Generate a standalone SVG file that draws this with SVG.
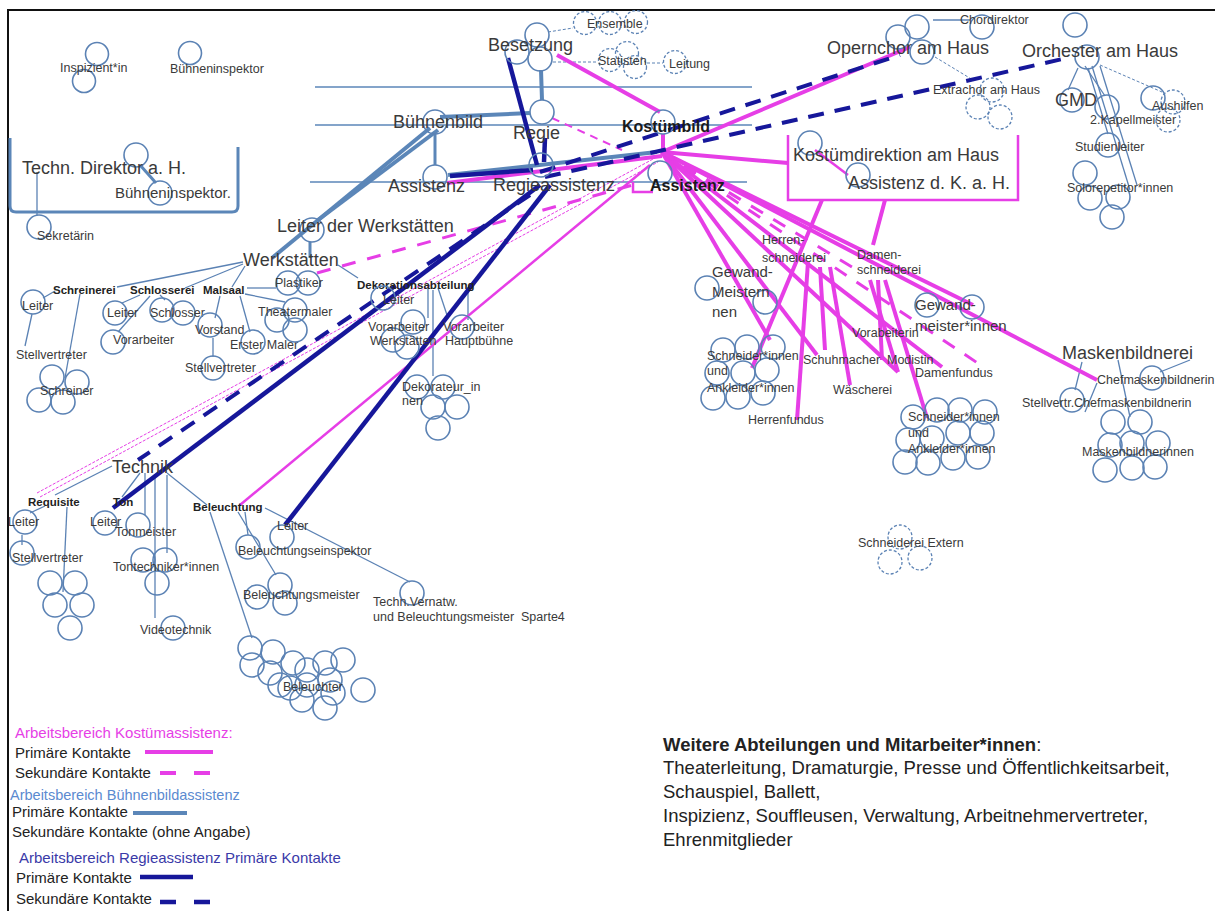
<svg xmlns="http://www.w3.org/2000/svg" width="1215" height="911" viewBox="0 0 1215 911">
<style>
text{font-family:"Liberation Sans",Arial,sans-serif;fill:#3a3a3a}
.s{font-size:12.5px}
.sb{font-size:11.5px;font-weight:bold;fill:#222}
.m{font-size:15px}
.l{font-size:18px}
.kb{font-size:16px;font-weight:bold;fill:#1a1a1a}
.lg{font-size:15px;fill:#222}
.w{font-size:18.5px;fill:#222}
.c{fill:none;stroke:#5b82b4;stroke-width:1.6}
.cd{fill:none;stroke:#5b82b4;stroke-width:1.3;stroke-dasharray:3 2}
.bt{stroke:#5b82b4;stroke-width:1.3;fill:none}
.bd{stroke:#5b82b4;stroke-width:1;stroke-dasharray:3 2;fill:none}
.bT{stroke:#5b86b8;stroke-width:4;fill:none}
.b3{stroke:#5b86b8;stroke-width:3;fill:none}
.hl{stroke:#5b86b8;stroke-width:1.5;fill:none}
.p{stroke:#e63ee6;stroke-width:4;fill:none}
.pm{stroke:#e63ee6;stroke-width:2.5;fill:none}
.pd{stroke:#e63ee6;stroke-width:3;stroke-dasharray:14 12;fill:none}
.pd2{stroke:#e63ee6;stroke-width:2;stroke-dasharray:8 6;fill:none}
.pdt{stroke:#e63ee6;stroke-width:1;stroke-dasharray:3 1.5;fill:none}
.n{stroke:#16179a;stroke-width:4.5;fill:none}
.nd{stroke:#16179a;stroke-width:4;stroke-dasharray:16 11;fill:none}
</style>
<rect width="1215" height="911" fill="#fff"/>
<path d="M8,911 V10 H1215" fill="none" stroke="#111" stroke-width="2"/>

<!-- horizontal guide lines -->
<g id="guides">
<line class="hl" x1="315" y1="87" x2="752" y2="87"/>
<line class="hl" x1="315" y1="125" x2="752" y2="125"/>
<line class="hl" x1="310" y1="182" x2="747" y2="182"/>
</g>

<g id="connectors">
<!-- thin steel blue -->
<line class="bt" x1="37" y1="172" x2="37" y2="215"/>
<line class="bt" x1="243" y1="262" x2="117" y2="287"/>
<line class="bt" x1="243" y1="264" x2="185" y2="288"/>
<line class="bt" x1="245" y1="266" x2="232" y2="287"/>
<line class="bt" x1="338" y1="265" x2="358" y2="278"/>
<line class="bt" x1="55" y1="291" x2="43" y2="298"/>
<line class="bt" x1="80" y1="294" x2="65" y2="378"/>
<line class="bt" x1="32" y1="314" x2="25" y2="346"/>
<line class="bt" x1="140" y1="295" x2="122" y2="303"/>
<line class="bt" x1="150" y1="296" x2="118" y2="332"/>
<line class="bt" x1="160" y1="295" x2="165" y2="300"/>
<line class="bt" x1="247" y1="288" x2="276" y2="288"/>
<line class="bt" x1="220" y1="296" x2="215" y2="318"/>
<line class="bt" x1="240" y1="296" x2="250" y2="332"/>
<line class="bt" x1="245" y1="294" x2="285" y2="302"/>
<line class="bt" x1="213" y1="338" x2="213" y2="357"/>
<line class="bt" x1="428" y1="288" x2="428" y2="318"/>
<line class="bt" x1="438" y1="288" x2="448" y2="318"/>
<line class="bt" x1="468" y1="288" x2="468" y2="320"/>
<line class="bt" x1="433" y1="290" x2="433" y2="376"/>
<line class="bt" x1="112" y1="466" x2="55" y2="495"/>
<line class="bt" x1="140" y1="473" x2="122" y2="497"/>
<line class="bt" x1="145" y1="473" x2="145" y2="515"/>
<line class="bt" x1="155" y1="475" x2="155" y2="618"/>
<line class="bt" x1="167" y1="475" x2="167" y2="553"/>
<line class="bt" x1="167" y1="473" x2="207" y2="505"/>
<line class="bt" x1="45" y1="506" x2="30" y2="513"/>
<line class="bt" x1="67" y1="507" x2="63" y2="592"/>
<line class="bt" x1="22" y1="535" x2="22" y2="545"/>
<line class="bt" x1="265" y1="508" x2="410" y2="582"/>
<line class="bt" x1="245" y1="512" x2="248" y2="535"/>
<line class="bt" x1="238" y1="512" x2="276" y2="575"/>
<line class="bt" x1="210" y1="512" x2="252" y2="638"/>
<line class="bt" x1="933" y1="20" x2="970" y2="20"/>
<line class="bd" x1="935" y1="57" x2="973" y2="80"/>
<line class="bd" x1="548" y1="32" x2="573" y2="28"/>
<line class="bd" x1="553" y1="62" x2="598" y2="62"/>
<line class="bd" x1="647" y1="63" x2="663" y2="63"/>
<line class="bt" x1="1078" y1="68" x2="1068" y2="90"/>
<line class="bt" x1="1085" y1="66" x2="1105" y2="96"/>
<line class="bt" x1="1088" y1="68" x2="1108" y2="134"/>
<line class="bt" x1="1092" y1="66" x2="1130" y2="190"/>
<line class="bt" x1="1100" y1="66" x2="1137" y2="185"/>
<line class="bd" x1="1100" y1="65" x2="1162" y2="92"/>
<line class="bt" x1="1190" y1="360" x2="1160" y2="372"/>
<line class="bt" x1="1082" y1="362" x2="1075" y2="390"/>
<line class="bt" x1="1097" y1="383" x2="1085" y2="412"/>
<line class="bt" x1="1118" y1="360" x2="1130" y2="417"/>

<!-- thick steel blue (Bühnenbildassistenz primary) -->
<line class="bT" x1="448" y1="175" x2="657" y2="152"/>
<line class="bT" x1="440" y1="117" x2="530" y2="113"/>
<line class="bT" x1="541" y1="70" x2="542" y2="100"/>
<line class="bT" x1="430" y1="128" x2="272" y2="258"/>
<line class="bT" x1="438" y1="130" x2="318" y2="220"/>
<line class="b3" x1="435" y1="134" x2="435" y2="165"/>
<line class="b3" x1="310" y1="242" x2="310" y2="258"/>
<line class="b3" x1="140" y1="165" x2="156" y2="183"/>

<!-- pink -->
<line class="p" x1="557" y1="55" x2="660" y2="112"/>
<line class="p" x1="663" y1="134" x2="663" y2="150"/>
<line class="p" x1="662" y1="152" x2="910" y2="47"/>
<line class="p" x1="662" y1="152" x2="788" y2="163"/>
<line class="p" x1="662" y1="152" x2="973" y2="305"/>
<line class="p" x1="662" y1="152" x2="1097" y2="380"/>
<line class="p" x1="662" y1="152" x2="770" y2="340"/>
<line class="p" x1="662" y1="152" x2="817" y2="355"/>
<line class="p" x1="662" y1="152" x2="898" y2="372"/>
<line class="p" x1="662" y1="152" x2="942" y2="367"/>
<line class="p" x1="447" y1="183" x2="662" y2="156"/>
<line class="p" x1="822" y1="200" x2="752" y2="368"/>
<line class="p" x1="808" y1="262" x2="797" y2="420"/>
<line class="p" x1="820" y1="267" x2="825" y2="350"/>
<line class="p" x1="830" y1="267" x2="850" y2="385"/>
<line class="p" x1="885" y1="200" x2="873" y2="245"/>
<line class="p" x1="870" y1="280" x2="898" y2="372"/>
<line class="p" x1="878" y1="280" x2="882" y2="360"/>
<line class="p" x1="885" y1="280" x2="927" y2="418"/>
<line class="pm" x1="815" y1="150" x2="848" y2="175"/>
<path class="pm" d="M788,135 V200 H1018 V135"/>
<path class="pm" d="M633,182 V192 H653"/>
<line class="pm" x1="240" y1="505" x2="650" y2="165"/>
<line class="pd2" x1="552" y1="118" x2="622" y2="150"/>
<line class="pd" x1="317" y1="273" x2="640" y2="183"/>
<line class="pd" x1="662" y1="152" x2="857" y2="270"/>
<line class="pd" x1="662" y1="152" x2="985" y2="368"/>
<line class="pdt" x1="37" y1="493" x2="655" y2="158"/>
<line class="pdt" x1="40" y1="497" x2="658" y2="162"/>

<!-- navy -->
<line class="n" x1="508" y1="58" x2="537" y2="165"/>
<line class="n" x1="545" y1="138" x2="544" y2="162"/>
<line class="n" x1="540" y1="185" x2="113" y2="508"/>
<line class="n" x1="550" y1="185" x2="285" y2="525"/>
<line class="n" x1="450" y1="176" x2="533" y2="170"/>
<line class="nd" x1="540" y1="172" x2="900" y2="55"/>
<line class="nd" x1="545" y1="177" x2="1067" y2="58"/>
<line class="nd" x1="530" y1="195" x2="138" y2="460"/>
</g>

<!-- nodes -->
<g id="inspizient"><circle class="c" cx="97" cy="54" r="11.5"/><circle class="c" cx="84" cy="81" r="11.5"/><text class="s" x="60" y="72">Inspizient*in</text></g>
<g id="buehneninspektor"><circle class="c" cx="190" cy="53" r="11.5"/><text class="s" x="170" y="73">Bühneninspektor</text></g>
<g id="techn-direktor">
<path d="M10,138 V206 Q10,212 16,212 H232 Q238,212 238,206 V147" fill="none" stroke="#5b86b8" stroke-width="3"/>
<circle class="c" cx="136" cy="155" r="12"/><circle class="c" cx="160" cy="193" r="12"/>
<text class="l" x="22" y="174">Techn. Direktor a. H.</text>
<text class="m" x="115" y="198">Bühneninspektor.</text>
</g>
<g id="sekretaerin"><circle class="c" cx="39" cy="227" r="12"/><text class="s" x="37" y="240">Sekretärin</text></g>

<g id="besetzung"><circle class="c" cx="537" cy="35" r="12"/><circle class="c" cx="517" cy="52" r="12"/><circle class="c" cx="540" cy="59" r="12"/><text class="l" x="488" y="51">Besetzung</text></g>
<g id="ensemble"><circle class="cd" cx="585" cy="23" r="11.5"/><circle class="cd" cx="610" cy="23" r="11.5"/><circle class="cd" cx="636" cy="22" r="11.5"/><text class="s" x="587" y="28">Ensemble</text></g>
<g id="statisten"><circle class="cd" cx="610" cy="60" r="11.5"/><circle class="cd" cx="627" cy="53" r="11.5"/><circle class="cd" cx="635" cy="67" r="11.5"/><text class="s" x="598" y="65">Statisten</text></g>
<g id="leitung"><circle class="cd" cx="675" cy="62" r="11.5"/><text class="s" x="669" y="68">Leitung</text></g>
<g id="buehnenbild"><circle class="c" cx="435" cy="122" r="12"/><text class="l" x="393" y="128">Bühnenbild</text></g>
<g id="regie"><circle class="c" cx="542" cy="112" r="12"/><text class="l" x="513" y="139">Regie</text></g>
<g id="assistenz-bb"><circle class="c" cx="435" cy="177" r="12"/><text class="l" x="388" y="192">Assistenz</text></g>
<g id="regieassistenz"><circle class="c" cx="541" cy="165" r="12"/><text class="l" x="493" y="191">Regieassistenz</text></g>
<g id="kostuembild"><circle class="c" cx="663" cy="122" r="12"/><text class="kb" x="622" y="132">Kostümbild</text></g>
<g id="assistenz-kb"><circle class="c" cx="660" cy="173" r="12"/><text class="kb" x="650" y="191">Assistenz</text></g>

<g id="kostuemdirektion"><circle class="c" cx="810" cy="143" r="12"/><text class="l" x="793" y="161">Kostümdirektion am Haus</text></g>
<g id="assistenz-dkah"><circle class="c" cx="858" cy="175" r="12"/><text class="l" x="848" y="189">Assistenz d. K. a. H.</text></g>

<g id="opernchor"><circle class="c" cx="917" cy="27" r="12"/><circle class="c" cx="898" cy="37" r="12"/><circle class="c" cx="922" cy="52" r="12"/><text class="l" x="827" y="54">Opernchor am Haus</text></g>
<g id="chordirektor"><circle class="c" cx="982" cy="27" r="12"/><text class="s" x="960" y="24">Chordirektor</text></g>
<g id="extrachor"><circle class="cd" cx="992" cy="90" r="12"/><circle class="cd" cx="978" cy="107" r="12"/><circle class="cd" cx="1000" cy="117" r="12"/><text class="s" x="933" y="94">Extrachor am Haus</text></g>
<g id="orchester"><circle class="c" cx="1075" cy="25" r="12"/><circle class="c" cx="1087" cy="57" r="12"/><text class="l" x="1022" y="57">Orchester am Haus</text></g>
<g id="gmd"><circle class="c" cx="1072" cy="100" r="12"/><text class="l" x="1055" y="106">GMD</text></g>
<g id="kapellmeister"><circle class="c" cx="1107" cy="107" r="12"/><text class="s" x="1090" y="124">2.Kapellmeister</text></g>
<g id="aushilfen"><circle class="c" cx="1153" cy="98" r="12"/><circle class="cd" cx="1173" cy="102" r="12"/><circle class="cd" cx="1168" cy="120" r="12"/><text class="s" x="1152" y="110">Aushilfen</text></g>
<g id="studienleiter"><circle class="c" cx="1108" cy="145" r="12"/><text class="s" x="1075" y="151">Studienleiter</text></g>
<g id="solorepetitor"><circle class="c" cx="1085" cy="173" r="12"/><circle class="c" cx="1090" cy="198" r="12"/><circle class="c" cx="1118" cy="197" r="12"/><circle class="c" cx="1112" cy="217" r="12"/><text class="s" x="1067" y="192">Solorepetitor*innen</text></g>

<g id="leiter-werkstaetten"><circle class="c" cx="312" cy="230" r="12"/><text class="l" x="277" y="232">Leiter der Werkstätten</text></g>
<g id="werkstaetten"><text class="l" x="243" y="266">Werkstätten</text></g>
<g id="schreinerei"><text class="sb" x="53" y="294">Schreinerei</text>
<circle class="c" cx="33" cy="302" r="12"/><text class="s" x="22" y="310">Leiter</text>
<text class="s" x="16" y="359">Stellvertreter</text>
<circle class="c" cx="52" cy="377" r="12"/><circle class="c" cx="77" cy="382" r="12"/><circle class="c" cx="39" cy="400" r="12"/><circle class="c" cx="63" cy="402" r="12"/><text class="s" x="40" y="395">Schreiner</text></g>
<g id="schlosserei"><text class="sb" x="130" y="294">Schlosserei</text>
<circle class="c" cx="115" cy="313" r="12"/><text class="s" x="107" y="317">Leiter</text>
<circle class="c" cx="162" cy="310" r="12"/><circle class="c" cx="183" cy="313" r="12"/><text class="s" x="150" y="317">Schlosser</text>
<circle class="c" cx="113" cy="342" r="12"/><text class="s" x="113" y="344">Vorarbeiter</text></g>
<g id="malsaal"><text class="sb" x="203" y="294">Malsaal</text>
<circle class="c" cx="210" cy="325" r="12"/><text class="s" x="195" y="334">Vorstand</text>
<circle class="c" cx="213" cy="368" r="12"/><text class="s" x="185" y="372">Stellvertreter</text>
<circle class="c" cx="253" cy="342" r="12"/><text class="s" x="230" y="349">Erster Maler</text>
<circle class="c" cx="277" cy="320" r="12"/><circle class="c" cx="295" cy="310" r="12"/><circle class="c" cx="295" cy="330" r="12"/><text class="s" x="258" y="316">Theatermaler</text></g>
<g id="plastiker"><circle class="c" cx="288" cy="283" r="12"/><circle class="c" cx="308" cy="283" r="12"/><text class="s" x="275" y="287">Plastiker</text></g>
<g id="dekorationsabteilung"><text class="sb" x="357" y="289">Dekorationsabteilung</text>
<circle class="c" cx="383" cy="298" r="12"/><text class="s" x="383" y="304">Leiter</text>
<circle class="c" cx="413" cy="322" r="12"/><circle class="c" cx="393" cy="340" r="12"/><circle class="c" cx="407" cy="347" r="12"/>
<text class="s" x="368" y="331">Vorarbeiter</text><text class="s" x="370" y="345">Werkstätten</text>
<circle class="c" cx="462" cy="327" r="12"/><text class="s" x="443" y="331">Vorarbeiter</text><text class="s" x="445" y="345">Hauptbühne</text>
<circle class="c" cx="417" cy="387" r="12"/><circle class="c" cx="443" cy="387" r="12"/><circle class="c" cx="433" cy="407" r="12"/><circle class="c" cx="457" cy="407" r="12"/><circle class="c" cx="438" cy="428" r="12"/>
<text class="s" x="402" y="391">Dekorateur_in</text><text class="s" x="402" y="405">nen</text></g>

<g id="technik"><text class="l" x="112" y="473">Technik</text></g>
<g id="requisite"><text class="sb" x="28" y="506">Requisite</text>
<circle class="c" cx="25" cy="522" r="12"/><text class="s" x="8" y="526">Leiter</text>
<circle class="c" cx="22" cy="553" r="12"/><text class="s" x="12" y="562">Stellvertreter</text>
<circle class="c" cx="50" cy="583" r="12"/><circle class="c" cx="75" cy="583" r="12"/><circle class="c" cx="55" cy="605" r="12"/><circle class="c" cx="82" cy="605" r="12"/><circle class="c" cx="70" cy="628" r="12"/></g>
<g id="ton"><text class="sb" x="113" y="506">Ton</text>
<circle class="c" cx="105" cy="523" r="12"/><text class="s" x="90" y="526">Leiter</text>
<circle class="c" cx="138" cy="525" r="12"/><text class="s" x="115" y="536">Tonmeister</text>
<circle class="c" cx="143" cy="560" r="12"/><circle class="c" cx="165" cy="560" r="12"/><circle class="c" cx="157" cy="583" r="12"/><text class="s" x="113" y="571">Tontechniker*innen</text>
<circle class="c" cx="173" cy="628" r="12"/><text class="s" x="140" y="634">Videotechnik</text></g>
<g id="beleuchtung"><text class="sb" x="193" y="511">Beleuchtung</text>
<circle class="c" cx="282" cy="537" r="12"/><text class="s" x="277" y="530">Leiter</text>
<circle class="c" cx="248" cy="547" r="12"/><text class="s" x="238" y="555">Beleuchtungseinspektor</text>
<circle class="c" cx="280" cy="585" r="12"/><circle class="c" cx="285" cy="603" r="12"/><circle class="c" cx="257" cy="597" r="12"/><text class="s" x="243" y="599">Beleuchtungsmeister</text>
<circle class="c" cx="412" cy="593" r="12"/><text class="s" x="373" y="606">Techn.Vernatw.</text><text class="s" x="373" y="621" style="white-space:pre">und Beleuchtungsmeister  Sparte4</text></g>
<g id="beleuchter">
<circle class="c" cx="250" cy="648" r="12"/><circle class="c" cx="273" cy="652" r="12"/><circle class="c" cx="252" cy="665" r="12"/><circle class="c" cx="270" cy="673" r="12"/><circle class="c" cx="293" cy="663" r="12"/><circle class="c" cx="307" cy="670" r="12"/><circle class="c" cx="325" cy="663" r="12"/><circle class="c" cx="343" cy="660" r="12"/><circle class="c" cx="280" cy="685" r="12"/><circle class="c" cx="290" cy="688" r="12"/><circle class="c" cx="307" cy="685" r="12"/><circle class="c" cx="330" cy="680" r="12"/><circle class="c" cx="363" cy="690" r="12"/><circle class="c" cx="302" cy="700" r="12"/><circle class="c" cx="325" cy="708" r="12"/><circle class="c" cx="333" cy="693" r="12"/>
<text class="s" x="283" y="691">Beleuchter</text></g>

<g id="gewandmeister-l"><circle class="c" cx="707" cy="288" r="12"/><circle class="c" cx="765" cy="302" r="12"/><text class="m" x="712" y="277">Gewand-</text><text class="m" x="712" y="297">Meistern</text><text class="m" x="712" y="317">nen</text></g>
<g id="herrenschneiderei"><text class="s" x="762" y="244">Herren-</text><text class="s" x="762" y="262">schneiderei</text></g>
<g id="damenschneiderei"><text class="s" x="857" y="259">Damen-</text><text class="s" x="857" y="274">schneiderei</text></g>
<g id="gewandmeister-r"><circle class="c" cx="927" cy="305" r="12"/><circle class="c" cx="972" cy="307" r="12"/><text class="m" x="915" y="310">Gewand-</text><text class="m" x="915" y="331">meister*innen</text></g>
<g id="schneider-l">
<circle class="c" cx="723" cy="350" r="12"/><circle class="c" cx="747" cy="347" r="12"/><circle class="c" cx="773" cy="347" r="12"/><circle class="c" cx="717" cy="373" r="12"/><circle class="c" cx="743" cy="373" r="12"/><circle class="c" cx="767" cy="370" r="12"/><circle class="c" cx="713" cy="398" r="12"/><circle class="c" cx="738" cy="397" r="12"/><circle class="c" cx="763" cy="393" r="12"/>
<text class="s" x="707" y="360">Schneider*innen</text><text class="s" x="707" y="375">und</text><text class="s" x="707" y="392">Ankleider*innen</text></g>
<g id="herrenfundus"><text class="s" x="748" y="424">Herrenfundus</text></g>
<g id="schuhmacher"><text class="s" x="803" y="364">Schuhmacher</text></g>
<g id="waescherei"><text class="s" x="833" y="394">Wäscherei</text></g>
<g id="modistin"><text class="s" x="887" y="364">Modistin</text></g>
<g id="vorabeiterin"><text class="s" x="852" y="337">Vorabeiterin</text></g>
<g id="damenfundus"><text class="s" x="915" y="377">Damenfundus</text></g>
<g id="schneider-r">
<circle class="c" cx="913" cy="417" r="12"/><circle class="c" cx="937" cy="410" r="12"/><circle class="c" cx="960" cy="410" r="12"/><circle class="c" cx="985" cy="412" r="12"/><circle class="c" cx="908" cy="440" r="12"/><circle class="c" cx="932" cy="438" r="12"/><circle class="c" cx="958" cy="433" r="12"/><circle class="c" cx="982" cy="433" r="12"/><circle class="c" cx="905" cy="462" r="12"/><circle class="c" cx="928" cy="463" r="12"/><circle class="c" cx="953" cy="458" r="12"/><circle class="c" cx="978" cy="457" r="12"/>
<text class="s" x="908" y="421">Schneider*innen</text><text class="s" x="908" y="437">und</text><text class="s" x="908" y="453">Ankleider*innen</text></g>
<g id="maskenbildnerei"><text class="l" x="1062" y="359">Maskenbildnerei</text>
<circle class="c" cx="1152" cy="378" r="12"/><text class="s" x="1097" y="384">Chefmaskenbildnerin</text>
<circle class="c" cx="1072" cy="400" r="12"/><text class="s" x="1022" y="407">Stellvertr.Chefmaskenbildnerin</text>
<circle class="c" cx="1113" cy="422" r="12"/><circle class="c" cx="1140" cy="422" r="12"/><circle class="c" cx="1110" cy="445" r="12"/><circle class="c" cx="1132" cy="443" r="12"/><circle class="c" cx="1158" cy="443" r="12"/><circle class="c" cx="1105" cy="470" r="12"/><circle class="c" cx="1132" cy="468" r="12"/><circle class="c" cx="1155" cy="467" r="12"/>
<text class="s" x="1082" y="456">Maskenbildnerinnen</text></g>
<g id="schneiderei-extern"><circle class="cd" cx="900" cy="537" r="12"/><circle class="cd" cx="890" cy="562" r="12"/><circle class="cd" cx="920" cy="558" r="12"/><text class="s" x="858" y="547">Schneiderei Extern</text></g>

<g id="legend">
<text class="lg" x="15" y="738" style="fill:#e63ee6">Arbeitsbereich Kostümassistenz:</text>
<text class="lg" x="15" y="758">Primäre Kontakte</text>
<line class="p" x1="145" y1="752" x2="213" y2="752"/>
<text class="lg" x="15" y="778">Sekundäre Kontakte</text>
<line stroke="#e63ee6" stroke-width="4" stroke-dasharray="16 18" x1="160" y1="773" x2="213" y2="773"/>
<text class="lg" x="10" y="800" style="fill:#5b8ad0;font-size:14.5px">Arbeitsbereich Bühnenbildassistenz</text>
<text class="lg" x="12" y="817">Primäre Kontakte</text>
<line class="bT" x1="133" y1="813" x2="187" y2="813"/>
<text class="lg" x="12" y="837">Sekundäre Kontakte (ohne Angabe)</text>
<text class="lg" x="19" y="863" style="fill:#3a3aa8">Arbeitsbereich Regieassistenz Primäre Kontakte</text>
<text class="lg" x="16" y="883">Primäre Kontakte</text>
<line class="n" x1="140" y1="877" x2="193" y2="877"/>
<text class="lg" x="16" y="904">Sekundäre Kontakte</text>
<line stroke="#16179a" stroke-width="4.5" stroke-dasharray="16 18" x1="160" y1="902" x2="213" y2="902"/>
</g>

<g id="weitere">
<text class="w" x="663" y="751"><tspan font-weight="bold">Weitere Abteilungen und Mitarbeiter*innen</tspan>:</text>
<text class="w" x="663" y="774">Theaterleitung, Dramaturgie, Presse und Öffentlichkeitsarbeit,</text>
<text class="w" x="663" y="798">Schauspiel, Ballett,</text>
<text class="w" x="663" y="822">Inspizienz, Souffleusen, Verwaltung, Arbeitnehmervertreter,</text>
<text class="w" x="663" y="846">Ehrenmitglieder</text>
</g>
</svg>
